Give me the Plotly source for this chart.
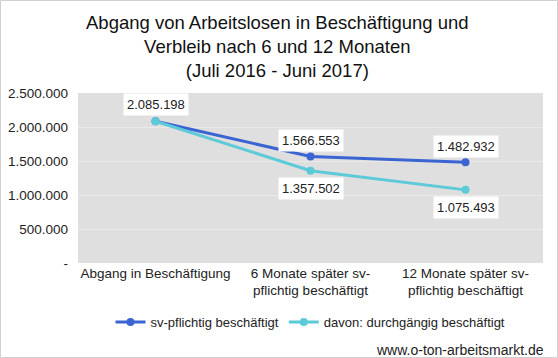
import plotly.graph_objects as go

categories = ["Abgang in Beschäftigung",
              "6 Monate später sv-<br>pflichtig beschäftigt",
              "12 Monate später sv-<br>pflichtig beschäftigt"]
sv_pflichtig = [2085198, 1566553, 1482932]
durchgaengig = [2085198, 1357502, 1075493]
y_ticks = [0, 500000, 1000000, 1500000, 2000000, 2500000]
y_tick_labels = ["-", "500.000", "1.000.000", "1.500.000", "2.000.000", "2.500.000"]
title_text = ("Abgang von Arbeitslosen in Beschäftigung und<br>"
              "Verbleib nach 6 und 12 Monaten<br>(Juli 2016 - Juni 2017)")

def fmt(v):
    return f"{v:,}".replace(",", ".")

blue = "#3A64D2"
cyan = "#5CCAD8"
font = "Liberation Sans, Arial, sans-serif"

fig = go.Figure()
fig.add_trace(go.Scatter(x=categories, y=sv_pflichtig, mode="lines+markers",
                         name="sv-pflichtig beschäftigt",
                         line=dict(color=blue, width=3),
                         marker=dict(size=8, color=blue)))
fig.add_trace(go.Scatter(x=categories, y=durchgaengig, mode="lines+markers",
                         name="davon: durchgängig beschäftigt",
                         line=dict(color=cyan, width=3),
                         marker=dict(size=8, color=cyan)))

annotations = []
annotations.append(dict(x=categories[0], y=sv_pflichtig[0], text=fmt(sv_pflichtig[0]),
                        yshift=17, showarrow=False, bgcolor="white", borderpad=3,
                        font=dict(size=13, color="#222", family=font)))
for i in range(1, 3):
    annotations.append(dict(x=categories[i], y=sv_pflichtig[i], text=fmt(sv_pflichtig[i]),
                            yshift=16, showarrow=False, bgcolor="white", borderpad=3,
                            font=dict(size=13, color="#222", family=font)))
    annotations.append(dict(x=categories[i], y=durchgaengig[i], text=fmt(durchgaengig[i]),
                            yshift=-18, showarrow=False, bgcolor="white", borderpad=3,
                            font=dict(size=13, color="#222", family=font)))
annotations.append(dict(xref="paper", yref="paper", x=(546 - 78) / 465, y=(358 - 350 - 95) / 170,
                        xanchor="right", yanchor="middle", text="www.o-ton-arbeitsmarkt.de",
                        showarrow=False, font=dict(size=14, color="#222", family=font)))
annotations.append(dict(xref="paper", yref="paper", x=(277.5 - 78) / 465,
                        y=(358 - 46 - 95) / 170, xanchor="center", yanchor="middle",
                        text=title_text, showarrow=False,
                        font=dict(size=18.5, color="#111", family=font)))

fig.update_layout(
    width=558, height=358,
    margin=dict(l=78, r=15, t=93, b=95, autoexpand=False),
    paper_bgcolor="white",
    plot_bgcolor="#DFDFDF",
    font=dict(family=font, size=13, color="#222"),
    xaxis=dict(showgrid=False, ticks="", tickfont=dict(size=13.5), showline=False,
               range=[-0.5, 2.5], automargin=False),
    yaxis=dict(range=[0, 2500000], tickvals=y_ticks, ticktext=y_tick_labels,
               gridcolor="#EAEAEA", gridwidth=1, zeroline=False, ticks="",
               tickfont=dict(size=13.5), ticklabelstandoff=9, automargin=False),
    legend=dict(orientation="h", x=0.5, xanchor="center", y=(358 - 322 - 95) / 170,
                yanchor="middle", font=dict(size=13), bgcolor="rgba(0,0,0,0)"),
    annotations=annotations,
    shapes=[dict(type="rect", xref="paper", yref="paper",
                 x0=(0.5 - 78) / 465, x1=(557.5 - 78) / 465,
                 y0=(0.5 - 95) / 170, y1=(357.5 - 95) / 170,
                 line=dict(color="#D0D0D0", width=1))],
    showlegend=True,
)

fig.write_html("out.html", config={"displayModeBar": False},
               post_script="document.body.style.margin='0';document.body.style.overflow='hidden';")
